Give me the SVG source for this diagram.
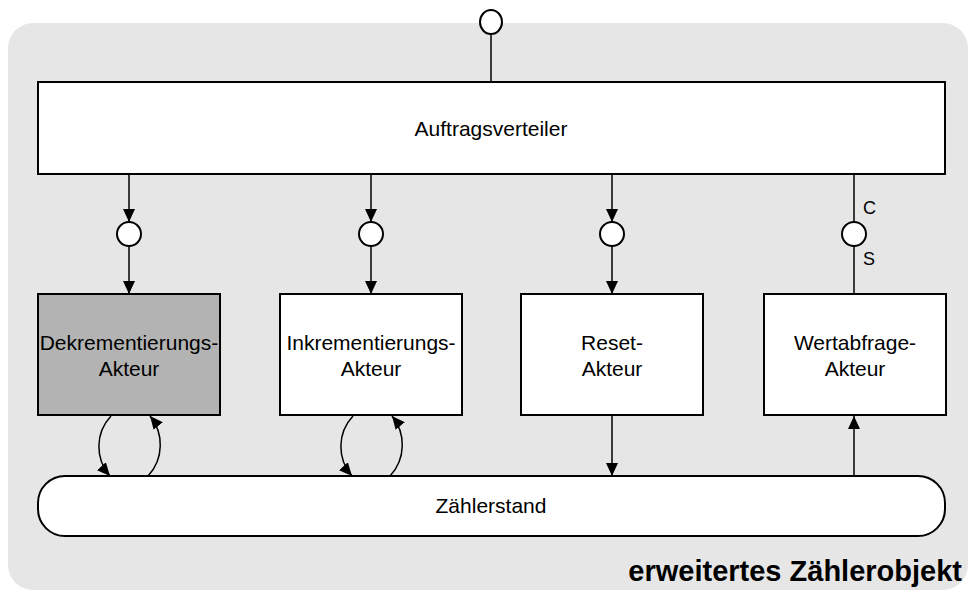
<svg xmlns="http://www.w3.org/2000/svg" width="970" height="590" viewBox="0 0 970 590">
  <defs>
    <marker id="arrow" markerUnits="userSpaceOnUse" markerWidth="14" markerHeight="14" refX="13" refY="7" orient="auto">
      <path d="M0,1 L13,7 L0,13 z" fill="#000"/>
    </marker>
    <style>
      .box { fill: #fff; stroke: #000; stroke-width: 2; }
      .box.shaded { fill: #b3b3b3; }
      .port { fill: #fff; stroke: #000; stroke-width: 2; }
      .line { fill: none; stroke: #000; stroke-width: 1.5; }
      .arr { marker-end: url(#arrow); }
      .label { font-family: "Liberation Sans", Arial, sans-serif; font-size: 21px; fill: #000; text-anchor: middle; }
      .tag { font-family: "Liberation Sans", Arial, sans-serif; font-size: 18px; fill: #000; }
      .title { font-family: "Liberation Sans", Arial, sans-serif; font-size: 29px; font-weight: bold; fill: #000; text-anchor: end; }
    </style>
  </defs>

  <!-- enclosing object -->
  <g id="object">
    <rect x="8" y="23" width="960" height="567" rx="25" ry="25" fill="#e6e6e6"/>
    <text class="title" x="962" y="581">erweitertes Zählerobjekt</text>
  </g>

  <!-- connectors -->
  <g id="connectors">
    <line class="line" x1="491" y1="34" x2="491" y2="82"/>
    <line class="line arr" x1="129" y1="175" x2="129" y2="222"/>
    <line class="line arr" x1="129" y1="246" x2="129" y2="294"/>
    <line class="line arr" x1="371" y1="175" x2="371" y2="222"/>
    <line class="line arr" x1="371" y1="246" x2="371" y2="294"/>
    <line class="line arr" x1="612" y1="175" x2="612" y2="222"/>
    <line class="line arr" x1="612" y1="246" x2="612" y2="294"/>
    <line class="line" x1="854" y1="175" x2="854" y2="294"/>
    <line class="line arr" x1="612" y1="416" x2="612" y2="476"/>
    <line class="line arr" x1="854" y1="476" x2="854" y2="416"/>
    <path class="line arr" d="M111,416 C95,433 95,459 110,476"/>
    <path class="line arr" d="M148,476 C164,459 164,433 150,416"/>
    <path class="line arr" d="M353,416 C337,433 337,459 352,476"/>
    <path class="line arr" d="M390,476 C406,459 406,433 392,416"/>
  </g>

  <!-- interface ports -->
  <g id="ports">
    <ellipse class="port" cx="491" cy="22" rx="11" ry="12"/>
    <circle class="port" cx="129" cy="234" r="12"/>
    <circle class="port" cx="371" cy="234" r="12"/>
    <circle class="port" cx="612" cy="234" r="12"/>
    <circle class="port" cx="854" cy="234" r="12"/>
    <text class="tag" x="863" y="214">C</text>
    <text class="tag" x="863" y="265">S</text>
  </g>

  <g id="auftragsverteiler">
    <rect class="box" x="38" y="82" width="907" height="92"/>
    <text class="label" x="491" y="136">Auftragsverteiler</text>
  </g>

  <g id="dekrementierungs-akteur">
    <rect class="box shaded" x="38" y="294" width="182" height="121"/>
    <text class="label" x="129" y="350">Dekrementierungs-</text>
    <text class="label" x="129" y="376">Akteur</text>
  </g>

  <g id="inkrementierungs-akteur">
    <rect class="box" x="280" y="294" width="182" height="121"/>
    <text class="label" x="371" y="350">Inkrementierungs-</text>
    <text class="label" x="371" y="376">Akteur</text>
  </g>

  <g id="reset-akteur">
    <rect class="box" x="521" y="294" width="182" height="121"/>
    <text class="label" x="612" y="350">Reset-</text>
    <text class="label" x="612" y="376">Akteur</text>
  </g>

  <g id="wertabfrage-akteur">
    <rect class="box" x="764" y="294" width="182" height="121"/>
    <text class="label" x="855" y="350">Wertabfrage-</text>
    <text class="label" x="855" y="376">Akteur</text>
  </g>

  <g id="zaehlerstand">
    <rect class="box" x="38" y="476" width="907" height="60" rx="27" ry="27"/>
    <text class="label" x="491" y="513">Zählerstand</text>
  </g>
</svg>
